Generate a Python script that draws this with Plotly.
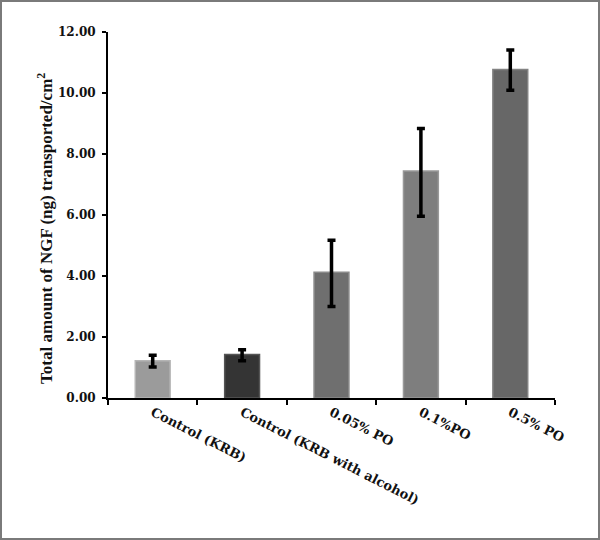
import plotly.graph_objects as go

categories = ["Control (KRB)", "Control (KRB with alcohol)", "0.05% PO", "0.1%PO", "0.5% PO"]
ngf_values = [1.22, 1.43, 4.12, 7.44, 10.77]
err_plus = [0.18, 0.15, 1.05, 1.40, 0.64]
err_minus = [0.20, 0.21, 1.12, 1.48, 0.68]
bar_colors = ["#9b9b9b", "#343434", "#6f6f6f", "#7e7e7e", "#676767"]
edge_colors = ["#b5b5b5", "#555555", "#8a8a8a", "#999999", "#828282"]

W, H = 600, 540
ml, mr, mt, mb = 108, 45, 32, 142
pw, ph = W - ml - mr, H - mt - mb

tick_font = "DejaVu Serif"
title_font = "Liberation Serif"

fig = go.Figure(go.Bar(
    x=categories,
    y=ngf_values,
    width=0.39,
    marker=dict(color=bar_colors, line=dict(color=edge_colors, width=1.5)),
    error_y=dict(type="data", symmetric=False, array=err_plus, arrayminus=err_minus,
                 color="black", thickness=3.5, width=4),
))

fig.update_xaxes(
    showline=True, linecolor="black", linewidth=2,
    ticks="outside", tickson="boundaries", ticklen=5, tickwidth=2, tickcolor="black",
    tickangle=27,
    tickfont=dict(family=tick_font, size=13, color="#111111", weight="bold"),
    showgrid=False, zeroline=False,
)
fig.update_yaxes(
    range=[0, 12], dtick=2, tickformat=".2f",
    showline=True, linecolor="black", linewidth=2,
    ticks="outside", ticklen=4, tickwidth=2, tickcolor="black",
    ticklabelstandoff=4,
    tickfont=dict(family=tick_font, size=12, color="#111111", weight="bold"),
    showgrid=False, zeroline=False,
)

# y-axis title placed by hand
fig.add_annotation(
    text="Total amount of NGF (ng) transported/cm<sup>2</sup>",
    xref="paper", yref="paper", x=(45 - ml) / pw, y=0.462,
    xanchor="center", yanchor="middle",
    textangle=-90, showarrow=False,
    font=dict(family=title_font, size=17, color="#111111", weight="bold"),
)

# thin gray frame round the picture
fig.add_shape(
    type="rect", xref="paper", yref="paper",
    x0=(1 - ml) / pw, x1=1 + (mr - 1) / pw,
    y0=-(mb - 1) / ph, y1=1 + (mt - 1) / ph,
    line=dict(color="#7a7a7a", width=2),
)

fig.update_layout(
    width=W, height=H,
    margin=dict(l=ml, r=mr, t=mt, b=mb),
    plot_bgcolor="white", paper_bgcolor="white",
    showlegend=False,
)

fig.write_html("out.html", config={"displayModeBar": False},
               post_script="document.body.style.margin='0';")
